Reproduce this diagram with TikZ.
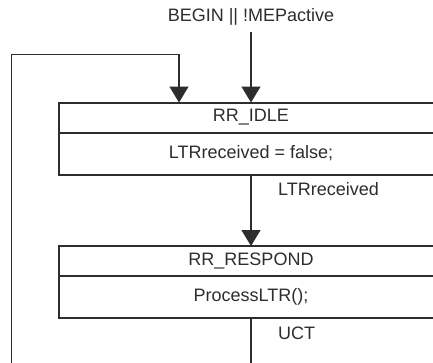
\documentclass[tikz,border=0pt]{standalone}
\usepackage{fontspec}
\setmainfont{Liberation Sans}
\usetikzlibrary{arrows.meta,positioning}

\definecolor{inkgray}{RGB}{45,45,45}

\begin{document}
\begin{tikzpicture}[x=1pt, y=-1pt, font=\fontsize{18}{21}\selectfont, color=inkgray,
  statehead/.style={draw, line width=2pt, minimum width=384pt, minimum height=30pt, inner sep=0pt, outer sep=0pt},
  statebody/.style={draw, line width=2pt, minimum width=384pt, minimum height=42pt, inner sep=0pt, outer sep=0pt},
  trans/.style={line width=1.3pt, -{Triangle[width=19pt,length=16pt]}},
  cond/.style={anchor=west, inner sep=0pt}]
  \useasboundingbox (0,0) rectangle (433,362);
  \clip (0,0) rectangle (433,362);
  % states
  \node[statehead] (idle) at (251,117.5) {RR\_IDLE};
  \node[statebody, below=0pt of idle] (idleact) {LTRreceived = false;};
  \node[statehead] (respond) at (251,261) {RR\_RESPOND};
  \node[statebody, below=0pt of respond] (respondact) {ProcessLTR();};
  % entry condition
  \node[inner sep=0pt] (begin) at (251,17) {BEGIN || !MEPactive};
  \draw[trans] ([yshift=-6pt]begin.south) -- (idle.north);
  % transitions
  \draw[trans] (idleact.south) -- (respond.north);
  \node[cond] (ltr) at (278,189) {LTRreceived};
  \node[cond] (uct) at (278,333) {UCT};
  \coordinate (loopbl) at (11.5,380);
  \coordinate (looptl) at (11.5,54.7);
  \draw[trans] (respondact.south) -- (respondact.south |- loopbl) -- (loopbl) -- (looptl)
    -| ([xshift=-72pt]idle.north);
\end{tikzpicture}
\end{document}
